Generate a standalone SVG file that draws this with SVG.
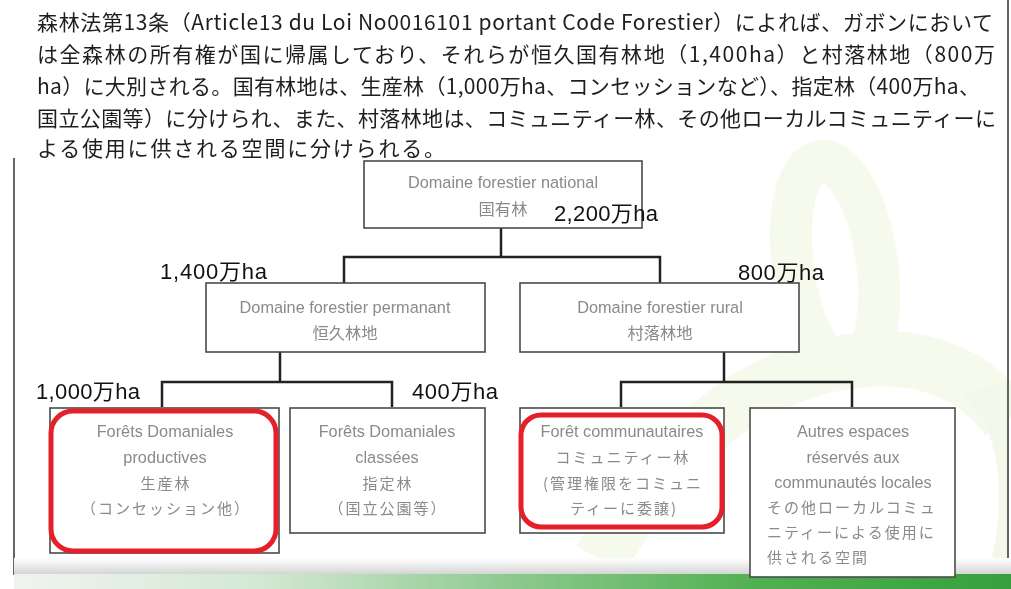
<svg xmlns="http://www.w3.org/2000/svg" width="1011" height="589" viewBox="0 0 1011 589">
<defs>
<linearGradient id="shade" x1="0" y1="0" x2="0" y2="1">
<stop offset="0" stop-color="#ffffff"/>
<stop offset="1" stop-color="#d4d6d4"/>
</linearGradient>
<linearGradient id="green" x1="0" y1="0" x2="1" y2="0">
<stop offset="0" stop-color="#f0f4ef"/>
<stop offset="0.25" stop-color="#d3e8d3"/>
<stop offset="0.5" stop-color="#8cc98e"/>
<stop offset="0.75" stop-color="#4fb04f"/>
<stop offset="1" stop-color="#37a03d"/>
</linearGradient>
<style>
.para{font-family:"Noto Sans CJK JP","Liberation Sans",sans-serif;font-size:21px;fill:#1e1e1e}
.lbl{font-family:"Liberation Sans","Noto Sans CJK JP",sans-serif;font-size:22px;fill:#111}
.bt{font-family:"Liberation Sans","Noto Sans CJK JP",sans-serif;font-size:16.3px;fill:#8a8a8a;text-anchor:middle}
.jp{font-family:"Noto Sans CJK JP",sans-serif;font-size:15px;letter-spacing:2px;fill:#8a8a8a}
.box{fill:#ffffff;stroke:#4a4a4a;stroke-width:1.6}
.red{fill:none;stroke:#e5202a;stroke-width:5}
.conn{fill:none;stroke:#222;stroke-width:2.5}
.border{stroke:#333;stroke-width:1.5}
</style>
</defs>
<rect width="1011" height="589" fill="#ffffff"/>
<g id="watermark" opacity="0.35">
<ellipse cx="835" cy="265" rx="42" ry="105" transform="rotate(-8 835 265)" fill="none" stroke="#e6f0cc" stroke-width="42"/>
<path d="M600 560 C680 430 760 370 860 360 C930 352 980 380 1008 420" fill="none" stroke="#e6f0cc" stroke-width="55"/>
<path d="M960 395 C1000 420 1008 500 990 565 L1008 565 L1008 380 Z" fill="#dcebc4"/>
</g>
<line class="border" x1="14" y1="158" x2="14" y2="575"/>
<line class="border" x1="1008" y1="0" x2="1008" y2="575"/>
<rect x="14" y="558" width="997" height="16" fill="url(#shade)"/>
<rect x="14" y="574" width="997" height="15" fill="url(#green)"/>
<g id="paragraph">
<text class="para" x="37" y="30" textLength="956">森林法第13条（Article13 du Loi No0016101 portant Code Forestier）によれば、ガボンにおいて</text>
<text class="para" x="37" y="62" textLength="958">は全森林の所有権が国に帰属しており、それらが恒久国有林地（1,400ha）と村落林地（800万</text>
<text class="para" x="37" y="94" textLength="943">ha）に大別される。国有林地は、生産林（1,000万ha、コンセッションなど）、指定林（400万ha、</text>
<text class="para" x="37" y="126" textLength="959">国立公園等）に分けられ、また、村落林地は、コミュニティー林、その他ローカルコミュニティーに</text>
<text class="para" x="37" y="156" textLength="408">よる使用に供される空間に分けられる。</text>
</g>
<g id="connectors">
<path class="conn" d="M501 228 V257"/>
<path class="conn" d="M344 283 V257 H660 V283"/>
<path class="conn" d="M280 352 V382"/>
<path class="conn" d="M162 407 V382 H392 V407"/>
<path class="conn" d="M724 352 V382"/>
<path class="conn" d="M621 407 V382 H852 V407"/>
</g>
<g id="node-national">
<rect class="box" x="364" y="161" width="278" height="67"/>
<text class="bt" x="503" y="188">Domaine forestier national</text>
<text class="bt" x="503" y="215">国有林</text>
</g>
<g id="node-permanant">
<rect class="box" x="206" y="283" width="279" height="69"/>
<text class="bt" x="345" y="313">Domaine forestier permanant</text>
<text class="bt" x="345" y="339">恒久林地</text>
</g>
<g id="node-rural">
<rect class="box" x="520" y="283" width="279" height="69"/>
<text class="bt" x="660" y="313">Domaine forestier rural</text>
<text class="bt" x="660" y="339">村落林地</text>
</g>
<g id="node-productives">
<rect class="box" x="50" y="408" width="229" height="145"/>
<rect class="red" x="51" y="411" width="225" height="140" rx="22"/>
<text class="bt" x="165" y="437">Forêts Domaniales</text>
<text class="bt" x="165" y="463">productives</text>
<text class="jp" x="166" y="489" text-anchor="middle">生産林</text>
<text class="jp" x="166" y="514" text-anchor="middle">（コンセッション他）</text>
</g>
<g id="node-classees">
<rect class="box" x="290" y="408" width="195" height="125"/>
<text class="bt" x="387" y="437">Forêts Domaniales</text>
<text class="bt" x="387" y="463">classées</text>
<text class="jp" x="388" y="489" text-anchor="middle">指定林</text>
<text class="jp" x="388" y="514" text-anchor="middle">（国立公園等）</text>
</g>
<g id="node-communautaires">
<rect class="box" x="520" y="408" width="204" height="125"/>
<rect class="red" x="521" y="415" width="201" height="112" rx="20"/>
<text class="bt" x="622" y="437">Forêt communautaires</text>
<text class="jp" x="623" y="463" text-anchor="middle">コミュニティー林</text>
<text class="jp" x="623" y="489" text-anchor="middle">(管理権限をコミュニ</text>
<text class="jp" x="624" y="514" text-anchor="middle">ティーに委譲)</text>
</g>
<g id="node-autres">
<rect class="box" x="750" y="408" width="205" height="169"/>
<text class="bt" x="853" y="437">Autres espaces</text>
<text class="bt" x="853" y="463">réservés aux</text>
<text class="bt" x="853" y="488">communautés locales</text>
<text class="jp" x="767" y="513">その他ローカルコミュ</text>
<text class="jp" x="767" y="538">ニティーによる使用に</text>
<text class="jp" x="767" y="563">供される空間</text>
</g>
<g id="labels">
<text class="lbl" x="554" y="221" textLength="104">2,200万ha</text>
<text class="lbl" x="160" y="279" textLength="107">1,400万ha</text>
<text class="lbl" x="738" y="280" textLength="86">800万ha</text>
<text class="lbl" x="36" y="399" textLength="104">1,000万ha</text>
<text class="lbl" x="412" y="399" textLength="86">400万ha</text>
</g>
</svg>
